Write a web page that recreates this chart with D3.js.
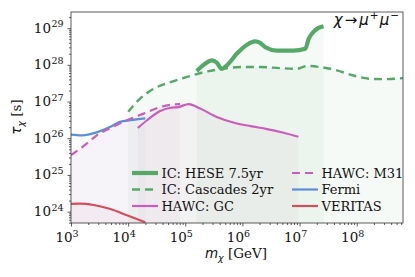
<!DOCTYPE html>
<html>
<head>
<meta charset="utf-8">
<script src="https://cdn.jsdelivr.net/npm/d3@7"></script>
<style>
  body { margin: 0; background: #fff; }
</style>
</head>
<body>
<div id="container"></div>
<script>
const w = 415;
const h = 277;
const margin = { left: 71, right: 12, top: 12, bottom: 54 };
const serif = "'DejaVu Serif', 'Liberation Serif', serif";
const sans = "'DejaVu Sans', sans-serif";

// log10(mass / GeV), log10(lifetime / s)
const heseM = [5.20, 5.32, 5.47, 5.55, 5.64, 5.73, 5.90, 6.08, 6.22, 6.31, 6.40, 6.60, 6.89, 7.10, 7.16, 7.27, 7.42];
const heseT = [27.83, 28.00, 28.12, 28.06, 27.89, 27.99, 28.30, 28.55, 28.64, 28.60, 28.48, 28.39, 28.39, 28.44, 28.71, 28.94, 29.05];
const cascM = [4.00, 4.21, 4.45, 4.74, 5.03, 5.32, 5.61, 5.96, 6.31, 6.66, 6.95, 7.13, 7.36, 7.65, 7.94, 8.23, 8.47, 8.82];
const cascT = [26.72, 27.08, 27.35, 27.53, 27.67, 27.80, 27.88, 27.94, 27.94, 27.91, 27.89, 27.97, 27.94, 27.85, 27.71, 27.62, 27.61, 27.64];
const gcM = [4.17, 4.33, 4.56, 4.74, 4.88, 5.06, 5.26, 5.55, 5.84, 6.14, 6.43, 6.72, 6.98];
const gcT = [26.28, 26.49, 26.74, 26.83, 26.85, 26.93, 26.81, 26.58, 26.43, 26.33, 26.25, 26.15, 26.04];
const m31M = [3.00, 3.28, 3.45, 3.69, 3.98, 4.27, 4.56, 4.79, 4.91];
const m31T = [25.54, 25.86, 26.08, 26.28, 26.49, 26.67, 26.85, 26.92, 26.93];
const fermiM = [3.00, 3.19, 3.45, 3.69, 3.86, 4.04, 4.30];
const fermiT = [26.10, 26.08, 26.16, 26.31, 26.45, 26.49, 26.54];
const veritasM = [3.00, 3.16, 3.40, 3.69, 3.98, 4.30];
const veritasT = [24.21, 24.22, 24.18, 24.07, 23.90, 23.71];

const xTicks = [3, 4, 5, 6, 7, 8];
const yTicks = [24, 25, 26, 27, 28, 29];

const series = [
  { name: "IC: HESE 7.5yr", m: heseM, t: heseT, color: "#55a868", width: 4.2, dash: null, fill: 0.06 },
  { name: "IC: Cascades 2yr", m: cascM, t: cascT, color: "#55a868", width: 2.4, dash: "8,5", fill: 0.06 },
  { name: "HAWC: GC", m: gcM, t: gcT, color: "#c75fba", width: 2.2, dash: null, fill: 0.05 },
  { name: "HAWC: M31", m: m31M, t: m31T, color: "#c75fba", width: 2.2, dash: "8,5", fill: 0.05 },
  { name: "Fermi", m: fermiM, t: fermiT, color: "#5a8fd6", width: 2.2, dash: null, fill: 0.04 },
  { name: "VERITAS", m: veritasM, t: veritasT, color: "#d1505b", width: 2.2, dash: null, fill: 0.05 }
];

const svg = d3.select("#container").append("svg")
  .attr("width", w).attr("height", h)
  .attr("font-family", serif);

const x = d3.scaleLinear().domain([3, 8.81]).range([margin.left, w - margin.right]);
const y = d3.scaleLinear().domain([23.69, 29.44]).range([h - margin.bottom, margin.top]);

svg.append("defs").append("clipPath").attr("id", "clip")
  .append("rect")
  .attr("x", margin.left).attr("y", margin.top)
  .attr("width", w - margin.left - margin.right)
  .attr("height", h - margin.top - margin.bottom);

const plot = svg.append("g").attr("clip-path", "url(#clip)");

const line = d3.line().x(d => x(d[0])).y(d => y(d[1])).curve(d3.curveMonotoneX);
const area = d3.area().x(d => x(d[0])).y0(y(23.69)).y1(d => y(d[1])).curve(d3.curveMonotoneX);

series.forEach(s => {
  const pts = s.m.map((m, i) => [m, s.t[i]]);
  plot.append("path").datum(pts)
    .attr("d", area)
    .attr("fill", s.color)
    .attr("fill-opacity", s.fill);
});
// lines after the fills
series.slice().reverse().forEach(s => {
  const pts = s.m.map((m, i) => [m, s.t[i]]);
  plot.append("path").datum(pts)
    .attr("d", line)
    .attr("fill", "none")
    .attr("stroke", s.color)
    .attr("stroke-width", s.width)
    .attr("stroke-dasharray", s.dash)
    .attr("stroke-linejoin", "round");
});

// minor ticks per decade
const minors = (lo, hi) => {
  const out = [];
  for (let d = lo; d < hi; d++) for (let k = 2; k < 10; k++) out.push(d + Math.log10(k));
  return out;
};

const xAxis = d3.axisBottom(x).tickValues(xTicks).tickSize(3.5).tickFormat("");
const xMinor = d3.axisBottom(x).tickValues(minors(3, 9).filter(v => v <= 8.81)).tickSize(2).tickFormat("");
const yAxis = d3.axisLeft(y).tickValues(yTicks).tickSize(3.5).tickFormat("");
const yMinor = d3.axisLeft(y).tickValues(minors(23, 30).filter(v => v >= 23.69 && v <= 29.44)).tickSize(2).tickFormat("");

[[xAxis, "translate(0," + (h - margin.bottom) + ")"], [xMinor, "translate(0," + (h - margin.bottom) + ")"],
 [yAxis, "translate(" + margin.left + ",0)"], [yMinor, "translate(" + margin.left + ",0)"]].forEach(([ax, tr]) => {
  const g = svg.append("g").attr("transform", tr).call(ax);
  g.select(".domain").remove();
  g.selectAll("line").attr("stroke", "#333").attr("stroke-width", 0.8);
});

// frame
svg.append("rect")
  .attr("x", margin.left).attr("y", margin.top)
  .attr("width", w - margin.left - margin.right)
  .attr("height", h - margin.top - margin.bottom)
  .attr("fill", "none").attr("stroke", "#333").attr("stroke-width", 0.8);

// tick labels 10^n
xTicks.forEach(v => {
  const t = svg.append("text")
    .attr("x", x(v) - 4).attr("y", h - margin.bottom + 19)
    .attr("text-anchor", "middle").attr("font-size", 13.5).attr("fill", "#111")
    .attr("font-family", serif);
  t.append("tspan").text("10");
  t.append("tspan").attr("dy", -5.5).attr("font-size", 9.5).text(v);
});
yTicks.forEach(v => {
  svg.append("text")
    .attr("x", margin.left - 20).attr("y", y(v) + 4.5)
    .attr("text-anchor", "end").attr("font-size", 13.5).attr("fill", "#111")
    .attr("font-family", serif).text("10");
  svg.append("text")
    .attr("x", margin.left - 19.5).attr("y", y(v) - 1)
    .attr("font-size", 9.5).attr("fill", "#111")
    .attr("font-family", serif).text(v);
});

// axis labels
const xl = svg.append("text")
  .attr("x", 236).attr("y", 258).attr("text-anchor", "middle")
  .attr("font-size", 13.5).attr("fill", "#111").attr("font-family", serif);
xl.append("tspan").attr("font-style", "italic").attr("font-family", sans).text("m");
xl.append("tspan").attr("font-style", "italic").attr("font-family", sans).attr("font-size", 9.5).attr("dy", 3).text("χ");
xl.append("tspan").attr("dy", -3).text(" [GeV]");

const yl = svg.append("text")
  .attr("transform", "translate(21," + 117 + ") rotate(-90)")
  .attr("text-anchor", "middle").attr("font-size", 13.5).attr("fill", "#111")
  .attr("font-family", serif);
yl.append("tspan").attr("font-style", "italic").attr("font-family", sans).text("τ");
yl.append("tspan").attr("font-style", "italic").attr("font-family", sans).attr("font-size", 9.5).attr("dy", 3).text("χ");
yl.append("tspan").attr("dy", -3).text(" [s]");

// annotation
const ann = svg.append("text")
  .attr("x", 399).attr("y", 25).attr("text-anchor", "end")
  .attr("font-family", sans).attr("font-style", "italic")
  .attr("font-size", 15).attr("fill", "#111");
ann.append("tspan").text("χ");
ann.append("tspan").attr("font-style", "normal").attr("dx", 2).text("→");
ann.append("tspan").attr("dx", 2).text("μ");
ann.append("tspan").attr("font-size", 10.5).attr("dy", -6).attr("dx", 1).text("+");
ann.append("tspan").attr("dy", 6).attr("dx", 1).text("μ");
ann.append("tspan").attr("font-size", 10.5).attr("dy", -6).attr("dx", 1).text("−");

// legend
const legendX = [132, 292];
const legendY = [173, 189.5, 206];
series.forEach((s, i) => {
  const col = Math.floor(i / 3), row = i % 3;
  const lx = legendX[col], ly = legendY[row];
  svg.append("line")
    .attr("x1", lx).attr("x2", lx + 26).attr("y1", ly).attr("y2", ly)
    .attr("stroke", s.color).attr("stroke-width", s.width)
    .attr("stroke-dasharray", s.dash);
  svg.append("text")
    .attr("x", lx + 29.5).attr("y", ly + 4.5)
    .attr("font-size", 13).attr("fill", "#111")
    .attr("font-family", serif).text(s.name);
});
</script>
</body>
</html>
